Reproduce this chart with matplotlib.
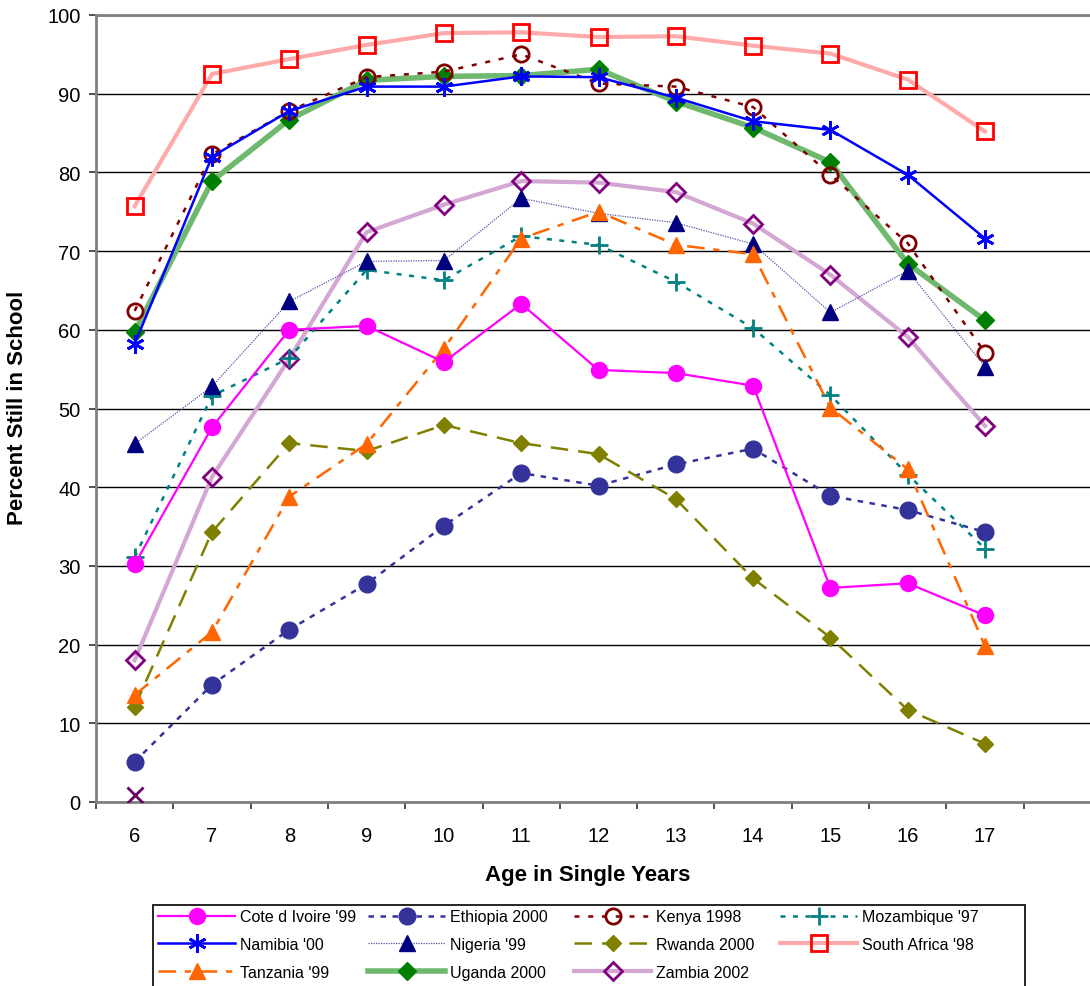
from matplotlib import pyplot as plt
from matplotlib.patches import Rectangle
import numpy as np

plt.rcParams['font.family'] = ['Liberation Sans', 'DejaVu Sans']

ages = [6, 7, 8, 9, 10, 11, 12, 13, 14, 15, 16, 17]

cote_divoire = [30.2, 47.6, 60.0, 60.5, 55.9, 63.3, 54.9, 54.5, 52.9, 27.2, 27.8, 23.7]
ethiopia = [5.1, 14.9, 21.9, 27.7, 35.1, 41.8, 40.2, 42.9, 44.9, 38.9, 37.1, 34.3]
kenya = [62.4, 82.3, 87.8, 92.1, 92.8, 95.0, 91.3, 90.9, 88.3, 79.7, 71.0, 57.1]
mozambique = [31.1, 51.6, 56.4, 67.6, 66.3, 71.9, 70.8, 66.1, 60.2, 51.7, 41.6, 32.2]
namibia = [58.2, 82.0, 87.8, 90.9, 90.9, 92.2, 92.1, 89.5, 86.5, 85.4, 79.7, 71.6]
nigeria = [45.5, 52.8, 63.6, 68.7, 68.8, 76.7, 74.8, 73.6, 70.9, 62.2, 67.5, 55.3]
rwanda = [12.1, 34.3, 45.6, 44.6, 47.9, 45.6, 44.2, 38.5, 28.4, 20.9, 11.7, 7.4]
south_africa = [75.7, 92.5, 94.4, 96.2, 97.7, 97.8, 97.2, 97.3, 96.1, 95.1, 91.8, 85.2]
tanzania = [13.6, 21.6, 38.8, 45.5, 57.6, 71.6, 75.0, 70.8, 69.6, 50.1, 42.3, 19.8]
uganda = [59.7, 78.9, 86.7, 91.7, 92.2, 92.3, 93.1, 89.0, 85.7, 81.3, 68.4, 61.2]
zambia = [18.0, 41.3, 56.3, 72.4, 75.9, 78.9, 78.7, 77.5, 73.5, 67.0, 59.1, 47.8]
extra_age6 = 0.9

fig = plt.figure(figsize=(10.90, 9.87), dpi=100)
ax = fig.add_axes([96 / 1090, 1 - 803 / 987, 1005 / 1090, 787 / 987])

x = np.array(ages)

h_cote, = ax.plot(x, cote_divoire, color='#ff00ff', lw=1.6, marker='o', ms=11.5,
                  mec='#ff00ff', mfc='#ff00ff', label="Cote d Ivoire '99", zorder=5)
h_eth, = ax.plot(x, ethiopia, color='#333399', lw=1.8, ls=(0, (2.2, 2.6)), marker='o', ms=12,
                 mec='#333399', mfc='#333399', label='Ethiopia 2000', zorder=4)
h_ken, = ax.plot(x, kenya, color='#800000', lw=1.8, ls=(0, (2.0, 3.5)), marker='o', ms=11,
                 mec='#800000', mfc='none', mew=2, label='Kenya 1998', zorder=4)
h_moz, = ax.plot(x, mozambique, color='#008080', lw=1.8, ls=(0, (2.0, 3.0)), marker='+', ms=13,
                 mec='#008080', mew=2, label="Mozambique '97", zorder=4)
h_nam, = ax.plot(x, namibia, color='#0000ff', lw=1.8, marker=(6, 2, 0), ms=13,
                 mec='#0000ff', mew=2, label="Namibia '00", zorder=5)
h_nig, = ax.plot(x, nigeria, color='#5555aa', lw=0.9, ls=(0, (1, 1)), marker='^', ms=12,
                 mec='#000080', mfc='#000080', label="Nigeria '99", zorder=4)
h_rwa, = ax.plot(x, rwanda, color='#808000', lw=1.8, ls=(0, (7, 4)), marker='D', ms=8.5,
                 mec='#808000', mfc='#808000', label='Rwanda 2000', zorder=4)
h_rsa, = ax.plot(x, south_africa, color='#ffaaaa', lw=3.0, marker='s', ms=11,
                 mec='#ff0000', mfc='none', mew=2, label="South Africa '98", zorder=3)
h_tan, = ax.plot(x, tanzania, color='#ff6600', lw=1.8, ls=(0, (7, 3.5, 2.5, 3.5)), marker='^', ms=12,
                 mec='#ff6600', mfc='#ff6600', label="Tanzania '99", zorder=4)
h_uga, = ax.plot(x, uganda, color='#6fb96f', lw=4.0, marker='D', ms=9,
                 mec='#008000', mfc='#008000', label='Uganda 2000', zorder=3)
h_zam, = ax.plot(x, zambia, color='#d4a6d4', lw=3.0, marker='D', ms=9,
                 mec='#800080', mfc='none', mew=2, label='Zambia 2002', zorder=3)
ax.plot([ages[0]], [extra_age6], ls='none', marker='x', ms=11, mew=2, color='#660066', zorder=5)

# axis ranges and gridlines
ax.set_xlim(5.5, 18.5)
ax.set_ylim(0, 100)
ax.set_yticks(np.arange(0, 101, 10))
ax.yaxis.grid(True, color='black', lw=1.0)
ax.set_axisbelow(True)

ax.set_xticks(np.arange(5.5, 18.6, 1))
ax.set_xticklabels([])
ax.set_xticks(ages, minor=True)
ax.set_xticklabels([str(a) for a in ages], minor=True, fontsize=14.5)
ax.tick_params(axis='x', which='major', length=5, width=1.2, color='#333333', direction='out')
ax.tick_params(axis='x', which='minor', length=0, pad=17)
ax.tick_params(axis='y', length=5, width=1.2, color='#333333', labelsize=14.5, pad=6)

for side in ['left', 'bottom', 'top']:
    ax.spines[side].set_color('#808080')
    ax.spines[side].set_linewidth(2)
ax.spines['right'].set_visible(False)

fig.text(588 / 1090, 1 - 876 / 987, 'Age in Single Years', fontsize=16, fontweight='bold',
         ha='center', va='center')
fig.text(18 / 1090, 1 - 408 / 987, 'Percent Still in School', fontsize=16, fontweight='bold',
         ha='center', va='center', rotation=90)

# legend: four equal-width columns inside one frame
columns = [[h_cote, h_nam, h_tan], [h_eth, h_nig, h_uga], [h_ken, h_rwa, h_zam], [h_moz, h_rsa]]
col_left = [147, 357, 563, 769]
for handles, left in zip(columns, col_left):
    fig.legend(handles=handles, loc='upper left',
               bbox_to_anchor=(left / 1090, 1 - 899 / 987), frameon=False,
               fontsize=11.5, handlelength=4.8, handletextpad=0.3,
               labelspacing=0.8, borderpad=0.2, numpoints=1)
fig.patches.append(Rectangle((153 / 1090, 1 - 1000 / 987), (1025 - 153) / 1090, 94 / 987,
                             transform=fig.transFigure, fill=False, ec='black', lw=1.2))

fig.savefig('out.png', dpi=100)
